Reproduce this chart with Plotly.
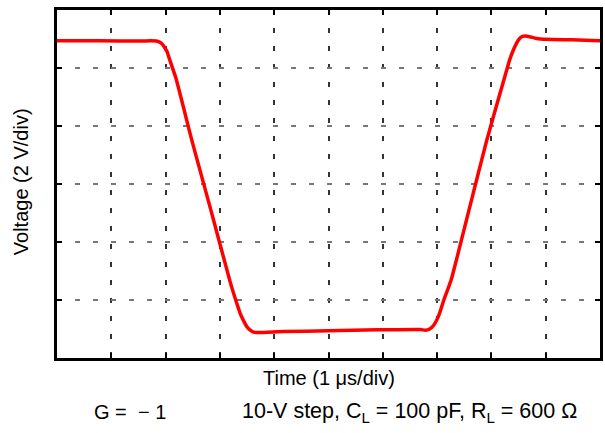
import plotly.graph_objects as go

# Time in microseconds (1 us/div), voltage in volts (2 V/div)
time_us = [0.0, 0.786, 1.517, 1.737, 1.828, 1.92, 1.974, 2.029, 2.066, 2.188, 2.481, 2.834,
           3.194, 3.291, 3.377, 3.437, 3.497, 3.565, 3.62, 3.711, 4.168, 4.991, 5.905,
           6.691, 6.782, 6.855, 6.941, 7.033, 7.124, 7.258, 7.587, 7.916, 8.282, 8.336,
           8.404, 8.464, 8.519, 8.574, 8.629, 8.702, 8.83, 9.013, 9.47, 10.0]
voltage_v = [4.94, 4.94, 4.93, 4.94, 4.93, 4.86, 4.73, 4.55, 4.34, 3.66, 1.52, -0.90,
             -3.41, -4.00, -4.48, -4.72, -4.92, -5.05, -5.11, -5.12, -5.09, -5.06, -5.03,
             -5.02, -5.04, -5.01, -4.86, -4.52, -4.00, -3.31, -0.90, 1.52, 3.93, 4.28,
             4.62, 4.86, 5.02, 5.09, 5.10, 5.08, 5.02, 4.99, 4.97, 4.94]

x_range = [0, 10]
y_range = [-6, 6]
x_title = "Time (1 \u03bcs/div)"
y_title = "Voltage (2 V/div)"
note_gain = "G =  \u2212 1"
note_cond = "10-V step, C<sub>L</sub> = 100 pF, R<sub>L</sub> = 600 \u03a9"

FONT = "Liberation Sans, Arial, sans-serif"
FS = 20

fig = go.Figure()
fig.add_trace(go.Scatter(
    x=time_us, y=voltage_v, mode="lines",
    line=dict(color="#ff0000", width=3.5, shape="spline", smoothing=0.5),
    hoverinfo="skip", showlegend=False,
))

common_axis = dict(
    showline=True, linecolor="black", linewidth=3, mirror="ticks",
    ticks="inside", ticklen=5, tickcolor="black", tickwidth=1.5,
    showticklabels=False, zeroline=False, showgrid=True,
    griddash="5px,13px", gridwidth=1.5,
)

fig.update_xaxes(range=x_range, dtick=1, tick0=0, gridcolor="#333333", **common_axis)
fig.update_yaxes(range=y_range, dtick=2, tick0=-6, gridcolor="#777777", **common_axis)

W, H = 605, 433
L, R, T, B = 57, 2, 10, 75
pw = W - L - R
ph = H - T - B

def px_to_paper(px, py):
    return (px - L) / pw, (H - B - py) / ph

annos = []
x, y = px_to_paper(331, 378)
annos.append(dict(text=x_title, x=x, y=y, xanchor="center", yanchor="middle", size=FS))
x, y = px_to_paper(21, 182)
annos.append(dict(text=y_title, x=x, y=y, xanchor="center", yanchor="middle", textangle=-90, size=FS))
x, y = px_to_paper(92, 412)
annos.append(dict(text=note_gain, x=x, y=y, xanchor="left", yanchor="middle", size=FS))
x, y = px_to_paper(241, 412)
annos.append(dict(text=note_cond, x=x, y=y, xanchor="left", yanchor="middle", size=21.5))

for a in annos:
    s = a.pop("size")
    a.update(xref="paper", yref="paper", showarrow=False,
             font=dict(family=FONT, size=s, color="black"))

fig.update_layout(
    width=W, height=H,
    margin=dict(l=L, r=R, t=T, b=B, pad=0),
    paper_bgcolor="white", plot_bgcolor="white",
    annotations=annos,
    font=dict(family=FONT, color="black", size=FS),
)

fig.write_html("out.html",
               config={"displayModeBar": False},
               post_script="document.body.style.margin='0';document.body.style.padding='0';")
